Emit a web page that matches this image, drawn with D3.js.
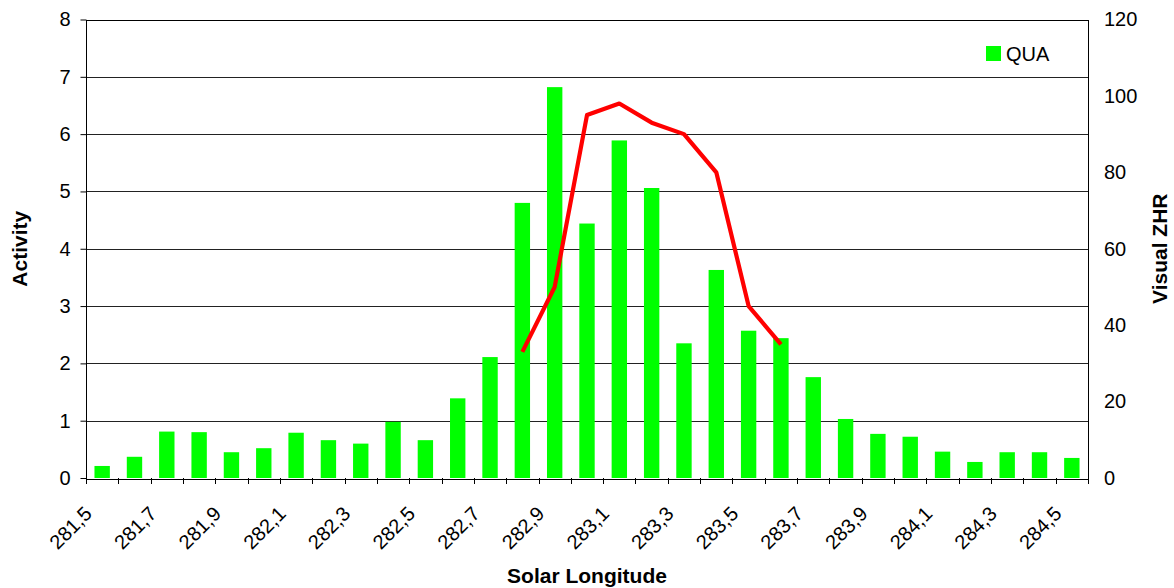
<!DOCTYPE html>
<html>
<head>
<meta charset="utf-8">
<script src="https://cdn.jsdelivr.net/npm/d3@7"></script>
<style>
  body { margin: 0; background: #fff; }
  svg { display: block; font-family: "Liberation Sans", Arial, sans-serif; }
</style>
</head>
<body>
<svg id="chart" width="1174" height="588"></svg>
<script>
// solar longitude categories, 281.5 .. 284.5 step 0.1
var categories = ["281,5","281,6","281,7","281,8","281,9","282,0","282,1","282,2","282,3","282,4",
                  "282,5","282,6","282,7","282,8","282,9","283,0","283,1","283,2","283,3","283,4",
                  "283,5","283,6","283,7","283,8","283,9","284,0","284,1","284,2","284,3","284,4","284,5"];
var quaActivity = [0.21, 0.37, 0.81, 0.80, 0.45, 0.52, 0.79, 0.66, 0.60, 0.98,
                   0.66, 1.39, 2.11, 4.80, 6.82, 4.44, 5.89, 5.06, 2.35, 3.63,
                   2.57, 2.44, 1.76, 1.03, 0.77, 0.72, 0.46, 0.28, 0.45, 0.45, 0.35];
var zhrCategories = ["282,8","282,9","283,0","283,1","283,2","283,3","283,4","283,5","283,6"];
var zhrValues = [33, 50, 95, 98, 93, 90, 80, 45, 35];
var leftTicks = [0, 1, 2, 3, 4, 5, 6, 7, 8];
var rightTicks = [0, 20, 40, 60, 80, 100, 120];

var pLeft = 86, pRight = 1088, pTop = 19.5, pBottom = 478;
var svg = d3.select('#chart');

var x = d3.scaleBand().domain(categories).range([pLeft, pRight]).paddingInner(0.524).paddingOuter(0.262);
var xEdge = d3.scaleLinear().domain([0, categories.length]).range([pLeft, pRight]);
var y = d3.scaleLinear().domain([0, 8]).range([pBottom, pTop]);
var y2 = d3.scaleLinear().domain([0, 120]).range([pBottom, pTop]);

// grid lines
svg.append('g').selectAll('line')
    .data(leftTicks.slice(1))
    .enter().append('line')
    .attr('x1', pLeft).attr('x2', pRight)
    .attr('y1', function(d) { return Math.round(y(d)) + 0.5; })
    .attr('y2', function(d) { return Math.round(y(d)) + 0.5; })
    .attr('stroke', '#222').attr('stroke-width', 1);

// bars
svg.append('g').selectAll('rect')
    .data(quaActivity)
    .enter().append('rect')
    .attr('x', function(d, i) { return x(categories[i]); })
    .attr('width', x.bandwidth())
    .attr('y', function(d) { return y(d); })
    .attr('height', function(d) { return pBottom - y(d); })
    .attr('fill', '#00ff00');

// plot frame
svg.append('rect')
    .attr('x', pLeft + 0.5).attr('y', Math.round(pTop) + 0.5)
    .attr('width', pRight - pLeft).attr('height', Math.round(pBottom - pTop))
    .attr('fill', 'none').attr('stroke', '#000').attr('stroke-width', 1);

// ZHR line
var line = d3.line()
    .x(function(d, i) { return x(zhrCategories[i]) + x.bandwidth() / 2; })
    .y(function(d) { return y2(d); });
svg.append('path')
    .datum(zhrValues)
    .attr('d', line)
    .attr('fill', 'none')
    .attr('stroke', '#ff0000')
    .attr('stroke-width', 4.2)
    .attr('stroke-linejoin', 'round');

var font = '"Liberation Sans", Arial, sans-serif';

// left axis
var yAxis = d3.axisLeft(y).tickValues(leftTicks).tickSize(6).tickPadding(10);
var gy = svg.append('g').attr('transform', 'translate(' + (pLeft + 0.5) + ',0)').call(yAxis);
gy.select('.domain').remove();
gy.selectAll('line').attr('stroke', '#000');
gy.selectAll('text').attr('font-size', 20).attr('fill', '#000').attr('font-family', font);

// right axis
var y2Axis = d3.axisRight(y2).tickValues(rightTicks).tickSize(0).tickPadding(16);
var gy2 = svg.append('g').attr('transform', 'translate(' + pRight + ',0)').call(y2Axis);
gy2.select('.domain').remove();
gy2.selectAll('text').attr('font-size', 20).attr('fill', '#000').attr('font-family', font);

// x axis ticks at category edges
svg.append('g').selectAll('line')
    .data(d3.range(categories.length + 1))
    .enter().append('line')
    .attr('x1', function(d) { return Math.round(xEdge(d)) + 0.5; })
    .attr('x2', function(d) { return Math.round(xEdge(d)) + 0.5; })
    .attr('y1', pBottom).attr('y2', pBottom + 6)
    .attr('stroke', '#000');

// x labels, every other category, rotated
svg.append('g').selectAll('text')
    .data(categories.filter(function(d, i) { return i % 2 == 0; }))
    .enter().append('text')
    .attr('transform', function(d) {
        var cx = x(d) + x.bandwidth() / 2 - 9;
        return 'translate(' + cx + ',' + (pBottom + 37) + ') rotate(-45)';
    })
    .attr('text-anchor', 'end')
    .attr('font-size', 20)
    .text(function(d) { return d; });

// axis titles
svg.append('text')
    .attr('x', (pLeft + pRight) / 2).attr('y', 583)
    .attr('text-anchor', 'middle').attr('font-size', 21).attr('font-weight', 'bold')
    .text('Solar Longitude');
svg.append('text')
    .attr('transform', 'translate(27,' + ((pTop + pBottom) / 2) + ') rotate(-90)')
    .attr('text-anchor', 'middle').attr('font-size', 21).attr('font-weight', 'bold')
    .text('Activity');
svg.append('text')
    .attr('transform', 'translate(1167,' + ((pTop + pBottom) / 2) + ') rotate(-90)')
    .attr('text-anchor', 'middle').attr('font-size', 21).attr('font-weight', 'bold')
    .text('Visual ZHR');

// legend
var lg = svg.append('g').attr('transform', 'translate(986,46)');
lg.append('rect').attr('width', 15).attr('height', 15).attr('fill', '#00ff00');
lg.append('text').attr('x', 20).attr('y', 14.5).attr('font-size', 20).text('QUA');
</script>
</body>
</html>
